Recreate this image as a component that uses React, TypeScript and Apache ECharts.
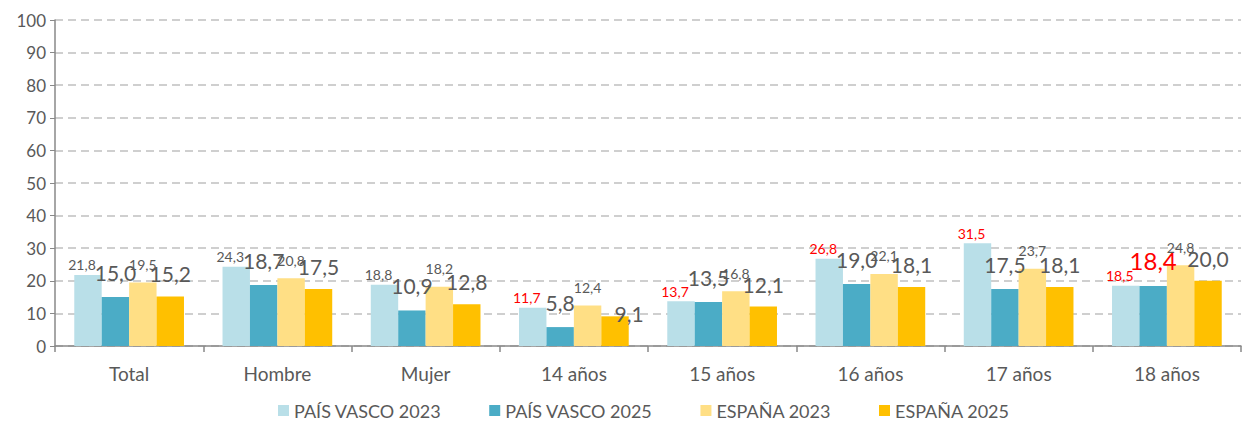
import React, { useEffect, useRef } from "react";
import * as echarts from "echarts";

const categories = ["Total", "Hombre", "Mujer", "14 años", "15 años", "16 años", "17 años", "18 años"];
const seriesNames = ["PAÍS VASCO 2023", "PAÍS VASCO 2025", "ESPAÑA 2023", "ESPAÑA 2025"];
const pv2023 = [21.8, 24.3, 18.8, 11.7, 13.7, 26.8, 31.5, 18.5];
const pv2025 = [15.0, 18.7, 10.9, 5.8, 13.5, 19.0, 17.5, 18.4];
const es2023 = [19.5, 20.8, 18.2, 12.4, 16.8, 22.1, 23.7, 24.8];
const es2025 = [15.2, 17.5, 12.8, 9.1, 12.1, 18.1, 18.1, 20.0];
const yTicks = [0, 10, 20, 30, 40, 50, 60, 70, 80, 90, 100];

const colors = ["#B9DFE8", "#4BACC6", "#FFDF85", "#FFC000"];
const FONT = "Lato, 'Liberation Sans', sans-serif";
const GREY = "#595959";
const RED = "#FF0000";

const fmt = (v: number) => v.toFixed(1).replace(".", ",");

export default function App() {
  const ref = useRef<HTMLDivElement>(null);
  useEffect(() => {
    if (!ref.current) return;
    const chart = echarts.init(ref.current, undefined, { renderer: "svg" });

    const redPV23 = [false, false, false, true, true, true, true, true];
    const redPV25 = [false, false, false, false, false, false, false, true];

    const mk = (vals: number[], red?: boolean[], bigRed?: boolean) =>
      vals.map((v, i) =>
        red && red[i]
          ? { value: v, label: { color: RED, ...(bigRed ? { fontSize: 24 } : {}) } }
          : v
      );

    const es25Data = es2025.map((v, i) =>
      i === 3 ? { value: v, label: { offset: [14, 20] } } : v
    );

    const option: any = {
      animation: false,
      textStyle: { fontFamily: FONT },
      grid: { left: 55, right: 8, top: 20, bottom: 76, containLabel: false },
      legend: {
        top: 401,
        left: 278,
        padding: 0,
        itemWidth: 11,
        itemHeight: 11,
        itemGap: 48,
        icon: "rect",
        textStyle: { fontSize: 18, lineHeight: 19, color: GREY, fontFamily: FONT },
        data: seriesNames,
      },
      xAxis: {
        type: "category",
        data: categories,
        axisLine: { lineStyle: { color: "#898989", width: 1.5 } },
        axisTick: { show: true, length: 6, lineStyle: { color: "#898989", width: 1.5 }, alignWithLabel: false },
        axisLabel: { fontSize: 19, color: GREY, margin: 18, fontFamily: FONT },
      },
      yAxis: {
        type: "value",
        min: 0,
        max: 100,
        interval: 10,
        axisLine: { show: true, lineStyle: { color: "#898989", width: 1.5 } },
        axisTick: { show: true, length: 5, lineStyle: { color: "#898989" } },
        axisLabel: { fontSize: 17, color: GREY, margin: 9, fontFamily: FONT, formatter: (v: number) => (yTicks.includes(v) ? String(v) : "") },
        splitLine: { lineStyle: { color: "#C0C0C0", type: [8, 5], width: 1.5 } },
      },
      series: [
        {
          name: seriesNames[0],
          type: "bar",
          data: mk(pv2023, redPV23),
          itemStyle: { color: colors[0] },
          barGap: "0%",
          barCategoryGap: "26%",
          label: { show: true, position: "top", distance: 3, offset: [-6, 0], fontSize: 14, color: GREY, formatter: (p: any) => fmt(p.value) },
        },
        {
          name: seriesNames[1],
          type: "bar",
          data: mk(pv2025, redPV25, true),
          itemStyle: { color: colors[1] },
          barGap: "0%",
          barCategoryGap: "26%",
          label: { show: true, position: "top", distance: 14, fontSize: 21, color: GREY, formatter: (p: any) => fmt(p.value) },
        },
        {
          name: seriesNames[2],
          type: "bar",
          data: es2023,
          itemStyle: { color: colors[2] },
          barGap: "0%",
          barCategoryGap: "26%",
          label: { show: true, position: "top", distance: 11, fontSize: 14, color: GREY, formatter: (p: any) => fmt(p.value) },
        },
        {
          name: seriesNames[3],
          type: "bar",
          data: es25Data,
          itemStyle: { color: colors[3] },
          barGap: "0%",
          barCategoryGap: "26%",
          label: { show: true, position: "top", distance: 12, fontSize: 21, color: GREY, formatter: (p: any) => fmt(p.value) },
        },
      ],
    };
    chart.setOption(option);
    return () => chart.dispose();
  }, []);
  return (
    <div
      ref={ref}
      style={{ position: "fixed", left: 0, top: 0, width: 1249, height: 422, background: "#fff" }}
    />
  );
}
